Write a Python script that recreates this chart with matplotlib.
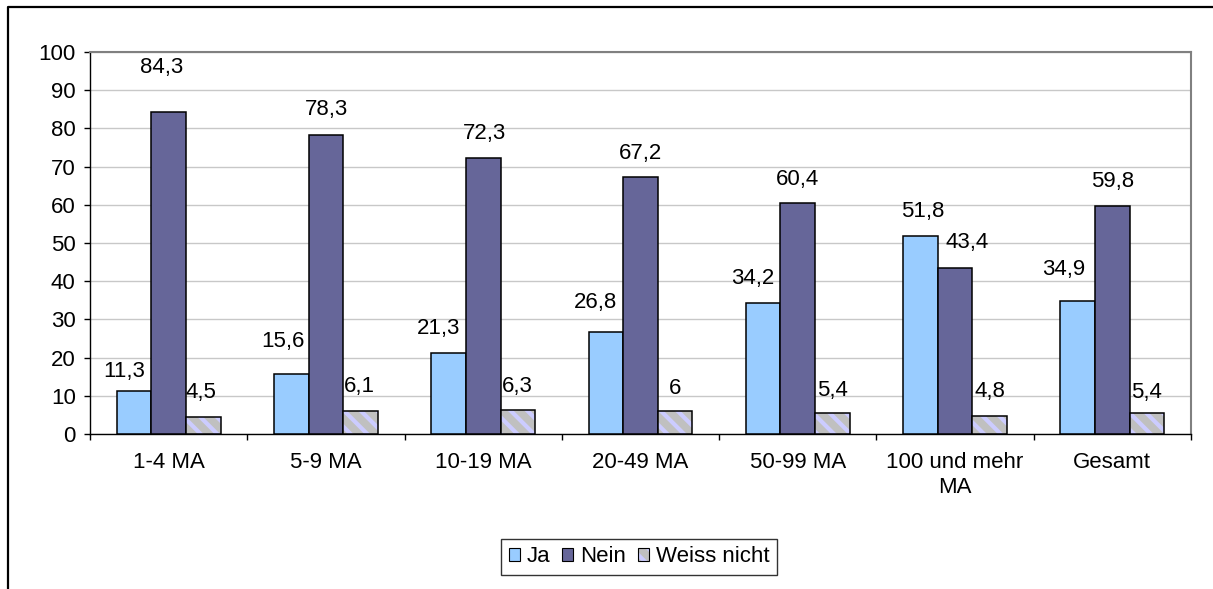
import matplotlib.pyplot as plt
import numpy as np
from matplotlib.lines import Line2D
from matplotlib.patches import Patch
from matplotlib.legend_handler import HandlerTuple

# Categories and values
categories = ["1-4 MA", "5-9 MA", "10-19 MA", "20-49 MA", "50-99 MA",
              "100 und mehr\nMA", "Gesamt"]
ja = [11.3, 15.6, 21.3, 26.8, 34.2, 51.8, 34.9]
nein = [84.3, 78.3, 72.3, 67.2, 60.4, 43.4, 59.8]
weiss_nicht = [4.5, 6.1, 6.3, 6.0, 5.4, 4.8, 5.4]
series_names = ["Ja", "Nein", "Weiss nicht"]

# label offsets (pixels) as placed in the original
ja_offsets = [(-10, 19), (-8, 33), (-10, 24), (-10, 29), (-10, 25), (2, 25), (-14, 31)]
nein_offsets = [(-7, 44), (1, 25), (1, 24), (0, 24), (0, 24), (12, 26), (0, 24)]
weiss_offsets = [(-2, 24), (-1, 24), (-1, 23), (0, 23), (0, 23), (0, 24), (0, 21)]

plt.rcParams["font.family"] = ["Liberation Sans", "DejaVu Sans"]
plt.rcParams["hatch.linewidth"] = 3.0
FS = 16


def fmt(v):
    s = f"{v:g}"
    return s.replace(".", ",")


def main():
    fig = plt.figure(figsize=(12.13, 5.89), dpi=100)
    ax = fig.add_axes([90 / 1213, 155 / 589, 1101 / 1213, 382 / 589])

    x = np.arange(len(categories))
    w = 0.22
    edge = dict(edgecolor="black", linewidth=1.1)

    b_ja = ax.bar(x - w, ja, w, color="#99CCFF", zorder=3, **edge)
    b_nein = ax.bar(x, nein, w, color="#666699", zorder=3, **edge)
    b_wn = ax.bar(x + w, weiss_nicht, w, color="#C0C0C0", hatch="\\\\",
                  edgecolor="#CCCCFF", linewidth=0, zorder=3)
    ax.bar(x + w, weiss_nicht, w, fill=False, zorder=4, **edge)

    for bars, vals, offs in [(b_ja, ja, ja_offsets),
                             (b_nein, nein, nein_offsets),
                             (b_wn, weiss_nicht, weiss_offsets)]:
        for rect, v, (dx, dy) in zip(bars, vals, offs):
            ax.annotate(fmt(v), (rect.get_x() + rect.get_width() / 2, v),
                        xytext=(dx, dy), textcoords="offset pixels",
                        ha="center", va="center", fontsize=FS, zorder=5)

    ax.set_xlim(-0.5, len(categories) - 0.5)
    ax.set_ylim(0, 100)
    ax.set_yticks(np.arange(0, 101, 10))
    ax.yaxis.grid(True, color="#C8C8C8", linewidth=1.0)
    ax.set_axisbelow(True)
    ax.tick_params(axis="y", direction="out", length=4.3, width=1,
                   pad=6, labelsize=FS)

    ax.set_xticks(np.arange(-0.5, len(categories), 1.0))
    ax.set_xticklabels([])
    ax.set_xticks(x, minor=True)
    ax.set_xticklabels(categories, minor=True, fontsize=FS, linespacing=1.25)
    ax.tick_params(axis="x", which="major", direction="out", length=4.3, width=1)
    ax.tick_params(axis="x", which="minor", length=0, pad=13)

    for side in ["left", "bottom"]:
        ax.spines[side].set_color("black")
        ax.spines[side].set_linewidth(1.0)
    for side in ["top", "right"]:
        ax.spines[side].set_color("#808080")
        ax.spines[side].set_linewidth(1.5)

    wn_outline = Patch(facecolor="none", edgecolor="black", linewidth=0.8)
    wn_hatch = Patch(facecolor="#C0C0C0", hatch="\\\\", edgecolor="#CCCCFF",
                     linewidth=0)
    handles = [Patch(facecolor="#99CCFF", edgecolor="black", linewidth=0.8),
               Patch(facecolor="#666699", edgecolor="black", linewidth=0.8),
               (wn_hatch, wn_outline)]
    leg = fig.legend(handles, series_names, loc="center",
                     bbox_to_anchor=(639 / 1213, 1 - 557 / 589), ncol=3,
                     fontsize=FS, frameon=True, fancybox=False,
                     handlelength=0.5, handleheight=0.5, handletextpad=0.3,
                     columnspacing=0.55, borderpad=0.35,
                     handler_map={tuple: HandlerTuple(ndivide=1, pad=0)})
    leg.get_frame().set_edgecolor("black")
    leg.get_frame().set_linewidth(1.0)

    # outer chart frame (cut off at right and bottom)
    fig.add_artist(Line2D([7.5 / 1213, 7.5 / 1213, 1.0],
                          [0.0, 1 - 6.5 / 589, 1 - 6.5 / 589],
                          color="black", linewidth=1.6,
                          transform=fig.transFigure))

    fig.savefig("out.png", dpi=100)


if __name__ == "__main__":
    main()
